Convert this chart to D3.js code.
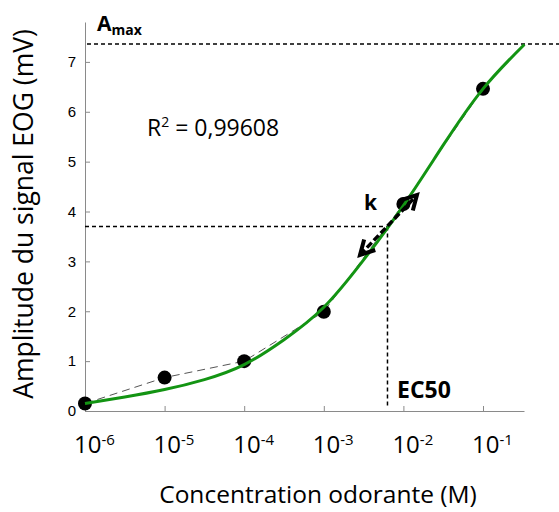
<!DOCTYPE html>
<html>
<head>
<meta charset="utf-8">
<script src="https://cdn.jsdelivr.net/npm/d3@7"></script>
<style>
  body { margin: 0; background: #fff; }
  svg text { font-family: "Open Sans", sans-serif; fill: #000; }
</style>
</head>
<body>
<svg id="svg" width="559" height="512"></svg>
<script>
// measured points (concentration in M, amplitude in mV)
var conc = [1e-6, 1e-5, 1e-4, 1e-3, 1e-2, 1e-1];
var amp = [0.15, 0.67, 1.0, 1.99, 4.15, 6.46];

// fitted curve (log10 of concentration, amplitude)
var fitLogConc = [-6, -5.5, -5, -4.5, -4, -3.5, -3, -2.5, -2, -1.5, -1, -0.48];
var fitAmp = [0.15, 0.28, 0.43, 0.63, 0.93, 1.43, 2.08, 3.03, 4.12, 5.33, 6.46, 7.35];

var yTicks = [0, 1, 2, 3, 4, 5, 6, 7];
var xTicks = [-6, -5, -4, -3, -2, -1];   // exponents

var Amax = 7.36;
var halfAmp = 3.7;
var ec50Log = -2.2;
var kArrow = [[-2.545, 3.13], [-1.83, 4.33]];   // log conc, amplitude

var svg = d3.select("#svg"),
    margin = { left: 85, right: 35, top: 22, bottom: 101 },
    W = +svg.attr("width"),
    H = +svg.attr("height");

var x = d3.scaleLog().domain([1e-6, Math.pow(10, -0.485)]).range([margin.left, W - margin.right]);
var y = d3.scaleLinear().domain([0, 7.8]).range([H - margin.bottom, margin.top]);
var xl = function(u) { return x(Math.pow(10, u)); };

// axes (ticks drawn inward)
var gy = svg.append("g")
    .attr("transform", "translate(" + margin.left + ",0)")
    .call(d3.axisLeft(y).tickValues(yTicks).tickSizeInner(-5).tickSizeOuter(0).tickPadding(9));
gy.select(".domain").attr("stroke", "#8a8a8a");
gy.selectAll(".tick line").attr("stroke", "#8a8a8a");
gy.selectAll(".tick text")
    .style("font-family", "'Liberation Sans', Arial, sans-serif")
    .style("font-size", "15px")
    .attr("fill", "#3a3f4a");

var gx = svg.append("g")
    .attr("transform", "translate(0," + y(0) + ")")
    .call(d3.axisBottom(x).tickValues(xTicks.map(function(e) { return Math.pow(10, e); }))
        .tickSizeInner(-5).tickSizeOuter(0).tickFormat(""));
gx.select(".domain").attr("stroke", "#8a8a8a");
gx.selectAll(".tick line").attr("stroke", "#8a8a8a");

// x tick labels as 10 with superscript exponent
var xlab = svg.append("g").selectAll("text").data(xTicks).enter().append("text")
    .attr("x", function(d) { return xl(d) - 11; })
    .attr("y", 453)
    .style("font-size", "24px");
xlab.append("tspan").text("10");
xlab.append("tspan").attr("dy", -8).style("font-size", "15px").text(function(d) { return "-" + (-d); });

// axis titles
svg.append("text")
    .attr("x", 318)
    .attr("y", 503)
    .attr("text-anchor", "middle")
    .style("font-size", "24.5px")
    .text("Concentration odorante (M)");

svg.append("text")
    .attr("transform", "translate(33," + 214 + ") rotate(-90)")
    .attr("text-anchor", "middle")
    .style("font-size", "26.5px")
    .text("Amplitude du signal EOG (mV)");

// reference dashed lines
svg.append("line")
    .attr("x1", margin.left + 2).attr("x2", W)
    .attr("y1", y(Amax)).attr("y2", y(Amax))
    .attr("stroke", "#000").attr("stroke-width", 1.5).attr("stroke-dasharray", "4,3");

svg.append("line")
    .attr("x1", margin.left).attr("x2", xl(ec50Log))
    .attr("y1", y(halfAmp)).attr("y2", y(halfAmp))
    .attr("stroke", "#000").attr("stroke-width", 1.5).attr("stroke-dasharray", "4,3");

svg.append("line")
    .attr("x1", xl(ec50Log)).attr("x2", xl(ec50Log))
    .attr("y1", y(halfAmp)).attr("y2", y(0) - 4)
    .attr("stroke", "#000").attr("stroke-width", 1.5).attr("stroke-dasharray", "4,3");

// thin dashed line joining the measured points
var pts = conc.map(function(c, i) { return [c, amp[i]]; });
svg.append("path")
    .datum(pts)
    .attr("fill", "none")
    .attr("stroke", "#555")
    .attr("stroke-width", 1)
    .attr("stroke-dasharray", "8,5")
    .attr("d", d3.line().x(function(d) { return x(d[0]); }).y(function(d) { return y(d[1]); }));

// data points
svg.append("g").selectAll("circle").data(pts).enter().append("circle")
    .attr("cx", function(d) { return x(d[0]); })
    .attr("cy", function(d) { return y(d[1]); })
    .attr("r", 7)
    .attr("fill", "#000");

// fitted curve
var fit = fitLogConc.map(function(u, i) { return [u, fitAmp[i]]; });
svg.append("path")
    .datum(fit)
    .attr("fill", "none")
    .attr("stroke", "#139413")
    .attr("stroke-width", 3)
    .attr("d", d3.line().curve(d3.curveNatural)
        .x(function(d) { return xl(d[0]); })
        .y(function(d) { return y(d[1]); }));

// k double arrow
var ax1 = xl(kArrow[0][0]), ay1 = y(kArrow[0][1]),
    ax2 = xl(kArrow[1][0]), ay2 = y(kArrow[1][1]);
svg.append("line")
    .attr("x1", ax1).attr("y1", ay1).attr("x2", ax2).attr("y2", ay2)
    .attr("stroke", "#000").attr("stroke-width", 3.5).attr("stroke-dasharray", "7,3");

function head(tx, ty, fx, fy) {
    var ang = Math.atan2(fy - ty, fx - tx), len = 16, spread = 0.5;
    var p = d3.path();
    p.moveTo(tx + len * Math.cos(ang - spread), ty + len * Math.sin(ang - spread));
    p.lineTo(tx, ty);
    p.lineTo(tx + len * Math.cos(ang + spread), ty + len * Math.sin(ang + spread));
    svg.append("path").attr("d", p.toString())
        .attr("fill", "none").attr("stroke", "#000").attr("stroke-width", 4)
        .attr("stroke-linejoin", "miter");
}
head(ax1, ay1, ax2, ay2);
head(ax2, ay2, ax1, ay1);

// annotations
var amaxT = svg.append("text").attr("x", 97).attr("y", 31).style("font-weight", "bold").style("font-size", "21px");
amaxT.append("tspan").text("A");
amaxT.append("tspan").attr("dy", 4).style("font-size", "14px").text("max");

var r2 = svg.append("text").attr("x", 147).attr("y", 136).style("font-size", "23px");
r2.append("tspan").text("R");
r2.append("tspan").attr("dy", -9).style("font-size", "14px").text("2");
r2.append("tspan").attr("dy", 9).text(" = 0,99608");

svg.append("text").attr("x", 364).attr("y", 210)
    .style("font-weight", "bold").style("font-size", "21px").text("k");

svg.append("text").attr("x", 397).attr("y", 398)
    .style("font-weight", "bold").style("font-size", "23px").text("EC50");
</script>
</body>
</html>
